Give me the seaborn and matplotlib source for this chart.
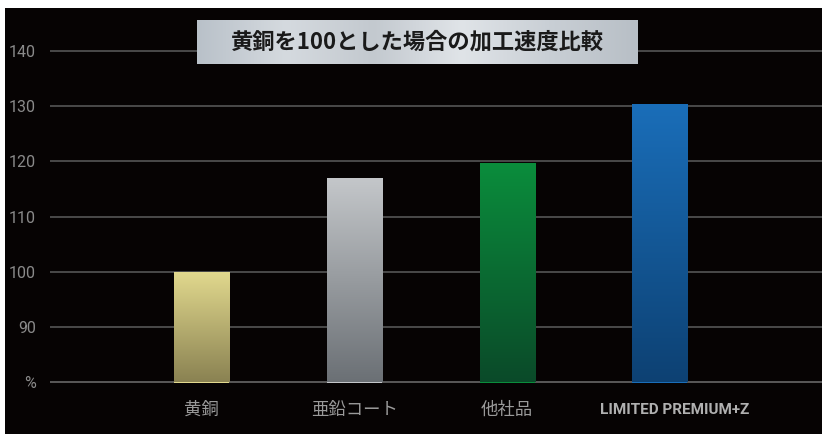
#!/usr/bin/env python3

# Machining speed comparison, brass = 100.

import numpy as np
import pandas as pd

import seaborn as sns
import matplotlib
matplotlib.use("Agg")
import matplotlib.pyplot as plt
from matplotlib.colors import to_rgb
from matplotlib.patches import Rectangle
from matplotlib.transforms import ScaledTranslation

# Data.
categories = ["黄銅", "亜鉛コート", "他社品", "LIMITED PREMIUM+Z"]
speed = [100, 117, 119.7, 130.4]
yticks = [80, 90, 100, 110, 120, 130, 140]
ytick_labels = ["%", "90", "100", "110", "120", "130", "140"]
title = "黄銅を100とした場合の加工速度比較"

# Top / bottom colours of each bar gradient.
bar_top = ["#e2d98e", "#c4c7ca", "#0a8d3c", "#1a6eb9"]
bar_bottom = ["#8a8252", "#6b7075", "#0b4a29", "#0d4173"]

sns.set_theme(style="dark")
plt.rcParams['font.family'] = ['Noto Sans CJK JP', 'DejaVu Sans']

W, H = 822, 434
fig = plt.figure(figsize=(W / 100, H / 100), dpi=100, facecolor="white")

# Black panel with thin white border on top and left.
fig.patches.append(Rectangle((5 / W, 0), 1, (H - 8) / H, transform=fig.transFigure,
                             facecolor="#060303", edgecolor="none", zorder=-5))

ax = fig.add_axes([50 / W, (H - 383) / H, (W - 50) / W, (383 - 8) / H])
ax.set_facecolor("#060303")

df = pd.DataFrame({"cat": categories, "speed": speed})
sns.barplot(data=df, x="cat", y="speed", hue="cat", palette=bar_top,
            width=0.36, legend=False, ax=ax, zorder=3, saturation=1,
            linewidth=0, edgecolor="none")

# Vertical gradient on every bar.
for patch, top, bot in zip(ax.patches, bar_top, bar_bottom):
    x0, w, h = patch.get_x(), patch.get_width(), patch.get_height()
    t = np.linspace(0, 1, 128)[:, None, None]
    grad = (1 - t) * np.array(to_rgb(top)) + t * np.array(to_rgb(bot))
    im = ax.imshow(grad, extent=[x0, x0 + w, 80, h], aspect="auto",
                   zorder=4, interpolation="bilinear")
    im.set_clip_path(patch)

ax.set_xlim(-0.99, 4.06)
ax.set_ylim(79.85, 147.8)

# Horizontal grid lines.
for v in yticks:
    ax.axhline(v, color="#707070" if v == 80 else "#5c5c5c", lw=1.1, zorder=2)

ax.set_yticks(yticks)
ax.set_yticklabels(ytick_labels, color="#8a8a8a", fontsize=11.5,
                   fontfamily=["Roboto", "DejaVu Sans"])
ax.tick_params(axis="y", length=0, pad=10)
ax.tick_params(axis="x", length=0, pad=13)
ax.set_xlabel("")
ax.set_ylabel("")
ax.grid(False)
for s in ax.spines.values():
    s.set_visible(False)

ax.set_xticks(range(len(categories)))
ax.set_xticklabels(categories, color="#9a9a9a", fontsize=12.5)
last = ax.get_xticklabels()[-1]
last.set_fontsize(11)
last.set_fontweight("bold")
last.set_color("#b0b0b0")
last.set_fontfamily(["Roboto", "DejaVu Sans"])
last.set_transform(last.get_transform() + ScaledTranslation(15 / 100, -2 / 100, fig.dpi_scale_trans))

# Metallic title box.
bx0, bx1, by0, by1 = 197 / W, 637 / W, (H - 64) / H, (H - 20) / H
box_ax = fig.add_axes([bx0, by0, bx1 - bx0, by1 - by0])
stops = np.array([to_rgb(c) for c in ["#b9c1c9", "#d5dadf", "#c3c9cf", "#e0e4e8",
                                      "#c9cfd5", "#b8bfc6"]])
xs = np.linspace(0, 1, 256)
sx = np.linspace(0, 1, len(stops))
row = np.stack([np.interp(xs, sx, stops[:, k]) for k in range(3)], axis=-1)
box_ax.imshow(row[None, :, :], aspect="auto", extent=[0, 1, 0, 1])
box_ax.set_axis_off()
box_ax.text(0.5, 0.5, title, ha="center", va="center", fontsize=16,
            fontweight="bold", color="#1a1a1a", transform=box_ax.transAxes)

fig.savefig("out.png", dpi=100, facecolor=fig.get_facecolor())
